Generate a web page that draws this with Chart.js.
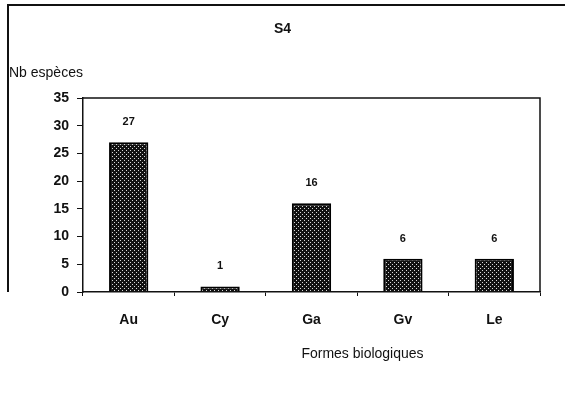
<!DOCTYPE html>
<html>
<head>
<meta charset="utf-8">
<script src="https://cdn.jsdelivr.net/npm/chart.js@4/dist/chart.umd.min.js"></script>
<style>
  html, body { margin: 0; padding: 0; background: #fff; }
  #wrap { position: relative; width: 565px; height: 409px; }
  #frame { position: absolute; left: 7px; top: 4px; width: 560px; height: 286px;
           border-top: 2px solid #111; border-left: 2px solid #111; pointer-events: none; }
</style>
</head>
<body>
<div id="wrap">
  <canvas id="chS4"></canvas>
  <div id="frame"></div>
</div>
<script>
// ============ 数据 ============
const categories = ['Au', 'Cy', 'Ga', 'Gv', 'Le'];
const nbEspeces = [27, 1, 16, 6, 6];
const yTicks = [0, 5, 10, 15, 20, 25, 30, 35];

const chartTitle = 'S4';
const yTitle = 'Nb espèces';
const xTitle = 'Formes biologiques';

const FONT = 'Arial, "Liberation Sans", sans-serif';

// 网点填充（扫描图的点状底纹）
function makePattern() {
  const c = document.createElement('canvas');
  c.width = 4; c.height = 4;
  const g = c.getContext('2d');
  g.fillStyle = '#111';
  g.fillRect(0, 0, 4, 4);
  g.fillStyle = '#d8d8d8';
  g.fillRect(0, 0, 1, 1);
  g.fillRect(2, 2, 1, 1);
  return g.createPattern(c, 'repeat');
}

// 标题、轴标题、数值标注、绘图区边框
const decor = {
  id: 'decor',
  afterDatasetsDraw(chart) {
    const { ctx, chartArea: a } = chart;
    ctx.save();
    // 绘图区上、右边框
    ctx.strokeStyle = '#111';
    ctx.lineWidth = 1.5;
    ctx.beginPath();
    ctx.moveTo(a.left, a.top);
    ctx.lineTo(a.right, a.top);
    ctx.lineTo(a.right, a.bottom);
    ctx.stroke();

    ctx.fillStyle = '#111';
    ctx.textBaseline = 'middle';
    // 数值
    ctx.font = 'bold 11px ' + FONT;
    ctx.textAlign = 'center';
    chart.getDatasetMeta(0).data.forEach((el, i) => {
      ctx.fillText(String(nbEspeces[i]), el.x, el.y - 20);
    });
    // 标题
    ctx.font = 'bold 14px ' + FONT;
    ctx.fillText(chartTitle, chart.width / 2, 29);
    // y 轴标题（水平，左上）
    ctx.font = '14px ' + FONT;
    ctx.textAlign = 'left';
    ctx.fillText(yTitle, 9, 73);
    // x 轴标题
    ctx.textAlign = 'center';
    ctx.fillText(xTitle, (a.left + a.right) / 2 + 51, a.bottom + 62);
    ctx.restore();
  }
};

const ctx = document.getElementById('chS4');
const chS4 = new Chart(ctx, {
  type: 'bar',
  data: {
    labels: categories,
    datasets: [{
      label: yTitle,
      data: nbEspeces,
      backgroundColor: makePattern(),
      borderColor: '#000',
      borderWidth: 2,
      borderSkipped: 'bottom',
      barPercentage: 0.43,
      categoryPercentage: 1.0
    }]
  },
  options: {
    responsive: true, maintainAspectRatio: false,
    animation: false,
    layout: { padding: { top: 98, right: 25, left: 0, bottom: 0 } },
    plugins: {
      legend: { display: false },
      tooltip: { enabled: false },
      title: { display: false }
    },
    scales: {
      x: {
        grid: { drawOnChartArea: false, offset: true, tickLength: 4, color: '#111', lineWidth: 1 },
        border: { display: true, color: '#111', width: 1.5 },
        ticks: { color: '#111', font: { family: FONT, size: 14, weight: 'bold' }, padding: 16, maxRotation: 0 },
        afterFit: s => { s.height = 117; }
      },
      y: {
        min: 0, max: 35,
        afterBuildTicks: s => { s.ticks = yTicks.map(v => ({ value: v })); },
        grid: { drawOnChartArea: false, tickLength: 6, color: '#111', lineWidth: 1 },
        border: { display: true, color: '#111', width: 1.5 },
        ticks: { color: '#111', font: { family: FONT, size: 14, weight: 'bold' }, padding: 8 },
        afterFit: s => { s.width = 83; }
      }
    }
  },
  plugins: [decor]
});
</script>
</body>
</html>
